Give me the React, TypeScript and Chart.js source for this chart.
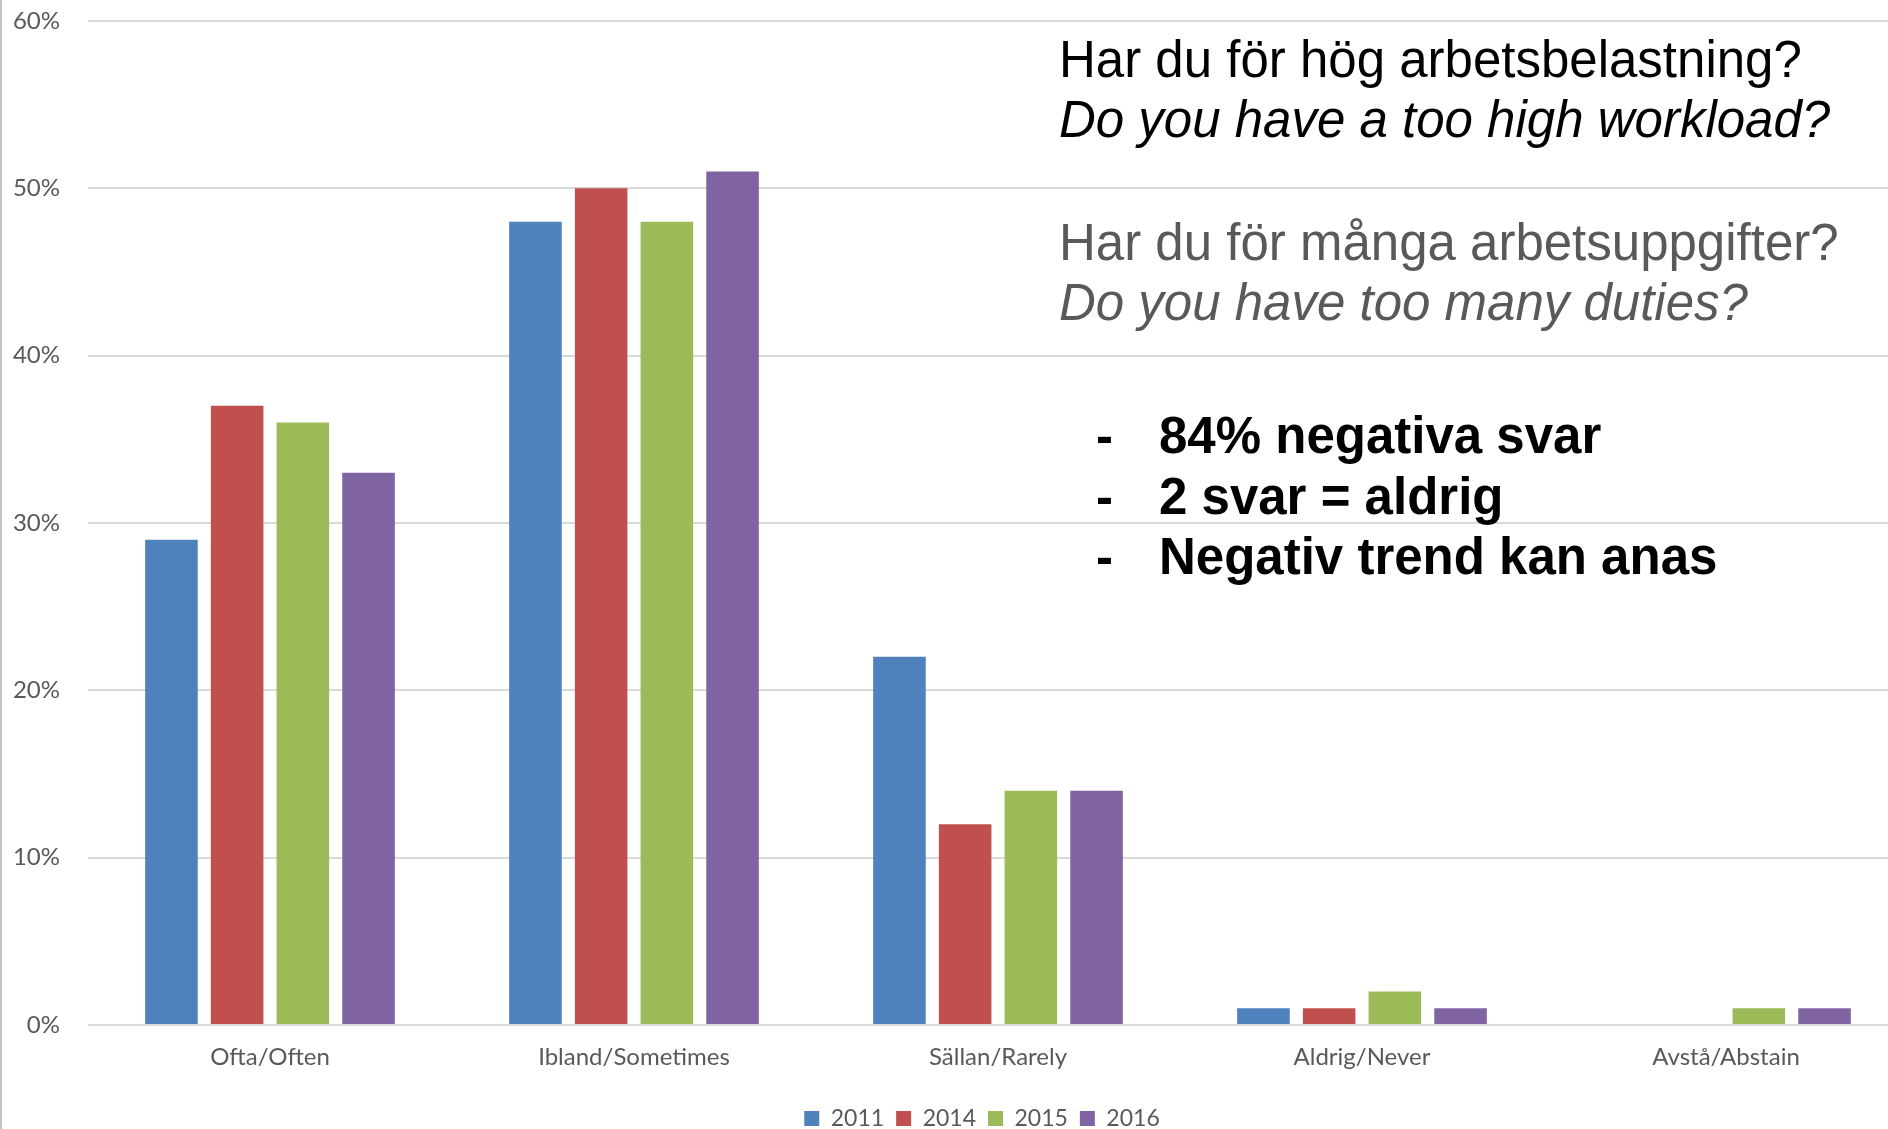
import React, { useEffect, useRef } from "react";
import { Chart, registerables } from "chart.js";

Chart.register(...registerables);

// ---- Data ----
const categories = ["Ofta/Often", "Ibland/Sometimes", "Sällan/Rarely", "Aldrig/Never", "Avstå/Abstain"];
const years = ["2011", "2014", "2015", "2016"];
const values2011 = [29, 48, 22, 1, 0];
const values2014 = [37, 50, 12, 1, 0];
const values2015 = [36, 48, 14, 2, 1];
const values2016 = [33, 51, 14, 1, 1];
const seriesValues = [values2011, values2014, values2015, values2016];
const seriesColors = ["#4F81BD", "#C0504D", "#9BBB59", "#8064A2"];
const yMin = 0;
const yMax = 60;
const yStep = 10;

const questionLines = [
  "Har du för hög arbetsbelastning?",
  "Do you have a too high workload?",
  "Har du för många arbetsuppgifter?",
  "Do you have too many duties?",
];
const bulletLines = ["84% negativa svar", "2 svar = aldrig", "Negativ trend kan anas"];

const AXIS_FONT = "Lato, 'Open Sans', sans-serif";
const TEXT_FONT = "'Liberation Sans', Arial, Helvetica, sans-serif";

const annotationPlugin = {
  id: "slideAnnotations",
  afterLayout(chart: any) {
    // nudge legend slightly left, as in the original slide
    if (chart.legend) {
      chart.legend.left -= 16;
      chart.legend.right -= 16;
    }
  },
  afterDraw(chart: any) {
    const ctx = chart.ctx as CanvasRenderingContext2D;
    ctx.save();
    ctx.textAlign = "left";
    ctx.textBaseline = "alphabetic";
    const qStyles = [
      { font: `51px ${TEXT_FONT}`, color: "#000000", y: 77 },
      { font: `italic 51px ${TEXT_FONT}`, color: "#000000", y: 137 },
      { font: `51px ${TEXT_FONT}`, color: "#595959", y: 260 },
      { font: `italic 51px ${TEXT_FONT}`, color: "#595959", y: 320 },
    ];
    questionLines.forEach((line, i) => {
      const s = qStyles[i];
      ctx.font = s.font;
      ctx.fillStyle = s.color;
      ctx.fillText(line, 1059, s.y);
    });
    const bulletY = [453, 514, 574];
    ctx.font = `bold 51px ${TEXT_FONT}`;
    ctx.fillStyle = "#000000";
    bulletLines.forEach((line, i) => {
      ctx.fillText("-", 1096, bulletY[i]);
      ctx.fillText(line, 1159, bulletY[i]);
    });
    ctx.restore();
  },
};

export default function App() {
  const canvasRef = useRef<HTMLCanvasElement | null>(null);

  useEffect(() => {
    const canvas = canvasRef.current;
    if (!canvas) return;
    const chart = new Chart(canvas, {
      type: "bar",
      data: {
        labels: categories,
        datasets: years.map((y, i) => ({
          label: y,
          data: seriesValues[i],
          backgroundColor: seriesColors[i],
          borderWidth: 0,
          categoryPercentage: 0.722,
          barPercentage: 0.8,
        })),
      },
      options: {
        responsive: false,
        animation: false,
        devicePixelRatio: 1,
        layout: { padding: { top: 21, left: 0, right: 0, bottom: 0 } },
        plugins: {
          tooltip: { enabled: false },
          legend: {
            position: "bottom",
            fullSize: false,
            labels: {
              boxWidth: 15,
              boxHeight: 15,
              padding: 12,
              color: "#595959",
              font: { family: AXIS_FONT, size: 23 },
            },
          },
        },
        scales: {
          x: {
            grid: { display: false, drawTicks: false },
            border: { display: false },
            ticks: {
              color: "#595959",
              padding: 18,
              font: { family: AXIS_FONT, size: 24 },
            },
            afterFit: (s: any) => {
              s.height = 70;
            },
          },
          y: {
            min: yMin,
            max: yMax,
            grid: { color: "#d9d9d9", lineWidth: 2, drawTicks: false },
            border: { display: false },
            ticks: {
              stepSize: yStep,
              color: "#595959",
              padding: 28,
              font: { family: AXIS_FONT, size: 24 },
              callback: (v: any) => `${v}%`,
            },
            afterFit: (s: any) => {
              s.width = 88;
              s.paddingTop = 0;
              s.paddingBottom = 0;
            },
          },
        },
      },
      plugins: [annotationPlugin],
    });
    return () => chart.destroy();
  }, []);

  return (
    <div
      style={{
        position: "fixed",
        left: 0,
        top: 0,
        width: 1888,
        height: 1129,
        overflow: "hidden",
        background: "#ffffff",
      }}
    >
      <canvas
        ref={canvasRef}
        width={1908}
        height={1140}
        style={{ position: "absolute", left: 0, top: 0, width: 1908, height: 1140 }}
      />
      <div
        style={{
          position: "absolute",
          left: 0,
          top: 0,
          width: 2,
          height: 1129,
          background: "#c6c2be",
        }}
      />
    </div>
  );
}
